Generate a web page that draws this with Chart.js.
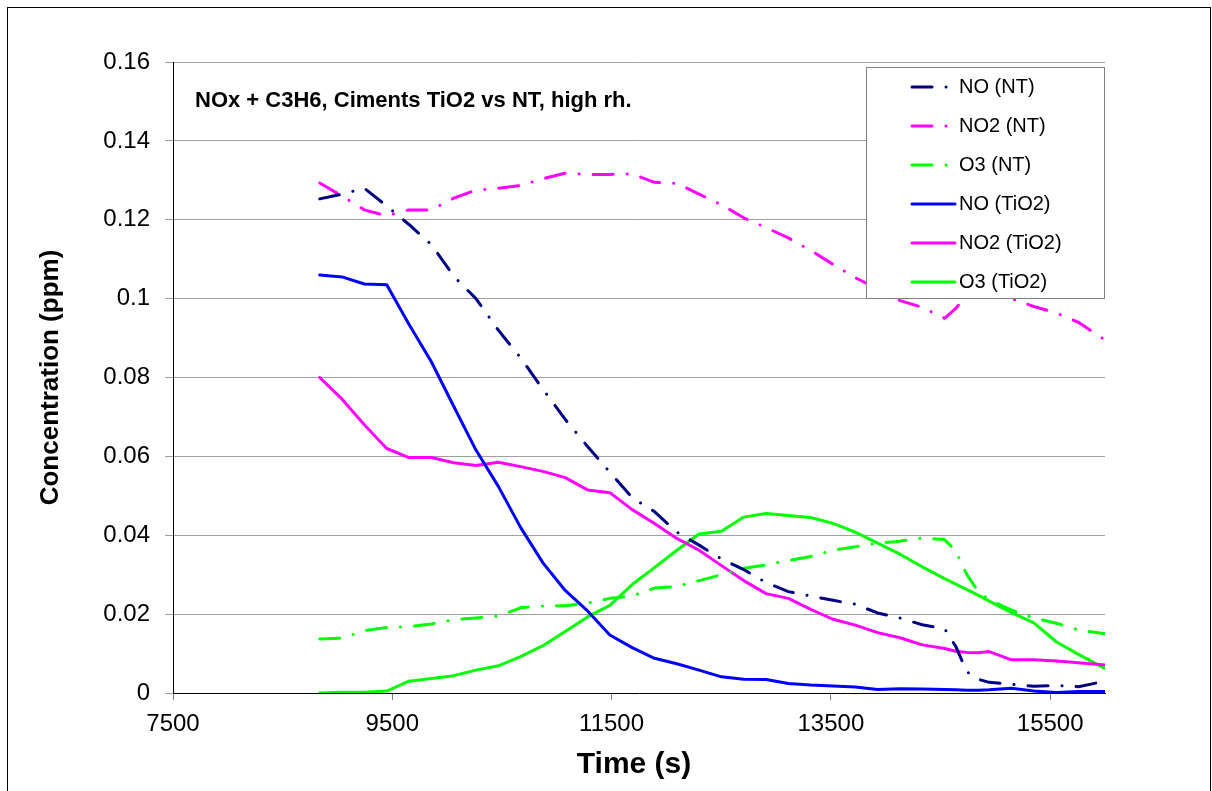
<!DOCTYPE html>
<html>
<head>
<meta charset="utf-8">
<script src="https://cdn.jsdelivr.net/npm/chart.js@4.4.1/dist/chart.umd.min.js"></script>
<style>
  html, body { margin: 0; padding: 0; background: #fff; }
  canvas { display: block; }
</style>
</head>
<body>
<canvas id="chart" width="1212" height="791"></canvas>
<script>
// sample times (s)
const timeS = [8838, 9042, 9245, 9449, 9652, 9856, 10060, 10263, 10467, 10670,
    10874, 11077, 11281, 11484, 11688, 11891, 12095, 12298, 12502, 12705,
    12909, 13112, 13316, 13519, 13723, 13926, 14130, 14333, 14537, 14639,
    14740, 14842, 14944, 15148, 15351, 15555, 15758, 16000];

// axis ticks
const xTicks = [7500, 9500, 11500, 13500, 15500];
const yTicks = [0, 0.02, 0.04, 0.06, 0.08, 0.1, 0.12, 0.14, 0.16];

const seriesLabels = ['NO (NT)', 'NO2 (NT)', 'O3 (NT)', 'NO (TiO2)', 'NO2 (TiO2)', 'O3 (TiO2)'];

// concentrations (ppm), cement without TiO2
const noNT = [0.1253, 0.1265, 0.1280, 0.1235, 0.1188, 0.1137, 0.1057, 0.1000, 0.0920, 0.0850,
    0.0770, 0.0694, 0.0625, 0.0560, 0.0495, 0.0460, 0.0408, 0.0375, 0.0340, 0.0313,
    0.0280, 0.0257, 0.0246, 0.0235, 0.0225, 0.0203, 0.0190, 0.0173, 0.0163, 0.0118,
    0.0054, 0.0035, 0.0027, 0.0022, 0.0017, 0.0019, 0.0016, 0.0030];
const no2NT = [0.1293, 0.1260, 0.1225, 0.1210, 0.1225, 0.1225, 0.1255, 0.1275, 0.1280, 0.1287,
    0.1304, 0.1318, 0.1315, 0.1315, 0.1316, 0.1295, 0.1292, 0.1265, 0.1238, 0.1205,
    0.1180, 0.1154, 0.1122, 0.1087, 0.1053, 0.1025, 0.0995, 0.0978, 0.0950, 0.0975,
    0.1010, 0.1015, 0.1010, 0.1000, 0.0980, 0.0964, 0.0940, 0.0895];
const o3NT = [0.0137, 0.0139, 0.0158, 0.0166, 0.0168, 0.0175, 0.0186, 0.0190, 0.0195, 0.0216,
    0.0221, 0.0221, 0.0228, 0.0240, 0.0246, 0.0266, 0.0270, 0.0285, 0.0300, 0.0316,
    0.0325, 0.0336, 0.0346, 0.0362, 0.0371, 0.0380, 0.0385, 0.0393, 0.0389, 0.0360,
    0.0300, 0.0258, 0.0236, 0.0210, 0.0190, 0.0177, 0.0160, 0.0150];

// concentrations (ppm), TiO2 cement
const noTiO2 = [0.1060, 0.1055, 0.1037, 0.1035, 0.0935, 0.0840, 0.0727, 0.0616, 0.0524, 0.0420,
    0.0330, 0.0260, 0.0208, 0.0147, 0.0115, 0.0088, 0.0074, 0.0058, 0.0041, 0.0035,
    0.0034, 0.0024, 0.0020, 0.0018, 0.0015, 0.0009, 0.0011, 0.0010, 0.0009, 0.0008,
    0.0007, 0.0007, 0.0008, 0.0012, 0.0005, 0.0001, 0.0004, 0.0004];
const no2TiO2 = [0.0800, 0.0745, 0.0680, 0.0620, 0.0597, 0.0597, 0.0584, 0.0577, 0.0585, 0.0574,
    0.0562, 0.0546, 0.0515, 0.0508, 0.0465, 0.0430, 0.0392, 0.0362, 0.0323, 0.0285,
    0.0252, 0.0240, 0.0212, 0.0187, 0.0172, 0.0153, 0.0140, 0.0122, 0.0113, 0.0106,
    0.0103, 0.0102, 0.0105, 0.0084, 0.0084, 0.0081, 0.0077, 0.0071];
const o3TiO2 = [0.0000, 0.0002, 0.0002, 0.0005, 0.0030, 0.0037, 0.0044, 0.0058, 0.0069, 0.0092,
    0.0120, 0.0156, 0.0193, 0.0222, 0.0275, 0.0318, 0.0362, 0.0403, 0.0410, 0.0446,
    0.0455, 0.0450, 0.0445, 0.0430, 0.0408, 0.0380, 0.0352, 0.0320, 0.0290, 0.0276,
    0.0262, 0.0248, 0.0233, 0.0204, 0.0178, 0.0130, 0.0098, 0.0062];

const FONT = 'Arial, "Liberation Sans", sans-serif';
const DASH_DOT = [20, 14, 0.1, 14];

function makeSeries(label, values, color, dashed) {
    return {
        label: label,
        data: timeS.map((t, i) => ({ x: t, y: values[i] })),
        borderColor: color,
        backgroundColor: color,
        borderWidth: 3,
        borderDash: dashed ? DASH_DOT : [],
        borderCapStyle: 'round',
        borderJoinStyle: 'round',
        pointRadius: 0,
        tension: 0,
        fill: false
    };
}

// frame, titles, annotation and legend box
const decorPlugin = {
    id: 'decor',
    beforeDraw(chart) {
        const ctx = chart.ctx;
        ctx.save();
        ctx.fillStyle = '#fff';
        ctx.fillRect(0, 0, chart.width, chart.height);
        ctx.strokeStyle = '#000';
        ctx.lineWidth = 1;
        ctx.strokeRect(7.5, 7.5, chart.width - 9, chart.height + 10);
        ctx.restore();
    },
    afterDatasetsDraw(chart) {
        const ctx = chart.ctx;
        const area = chart.chartArea;
        ctx.save();
        ctx.fillStyle = '#000';

        // annotation
        ctx.font = 'bold 22px ' + FONT;
        ctx.textAlign = 'left';
        ctx.textBaseline = 'middle';
        ctx.fillText('NOx + C3H6, Ciments TiO2 vs NT, high rh.', 195, 101);

        // axis titles
        ctx.font = 'bold 30px ' + FONT;
        ctx.textAlign = 'center';
        ctx.fillText('Time (s)', (area.left + area.right) / 2 - 5, 765);
        ctx.save();
        ctx.translate(51, (area.top + area.bottom) / 2);
        ctx.rotate(-Math.PI / 2);
        ctx.font = 'bold 26px ' + FONT;
        ctx.fillText('Concentration (ppm)', 0, 0);
        ctx.restore();

        // legend
        const box = { x: 866.5, y: 67.5, w: 238, h: 231 };
        ctx.fillStyle = '#fff';
        ctx.fillRect(box.x, box.y, box.w, box.h);
        ctx.strokeStyle = '#808080';
        ctx.lineWidth = 1;
        ctx.strokeRect(box.x, box.y, box.w, box.h);

        ctx.font = '20px ' + FONT;
        ctx.textAlign = 'left';
        chart.data.datasets.forEach((ds, i) => {
            const y = 87 + i * 39;
            ctx.save();
            ctx.strokeStyle = ds.borderColor;
            ctx.lineWidth = 3;
            ctx.lineCap = 'round';
            ctx.setLineDash(ds.borderDash);
            ctx.beginPath();
            ctx.moveTo(912, y);
            ctx.lineTo(955, y);
            ctx.stroke();
            ctx.restore();
            ctx.fillStyle = '#000';
            ctx.fillText(ds.label, 959, y);
        });
        ctx.restore();
    }
};

new Chart(document.getElementById('chart'), {
    type: 'line',
    data: {
        datasets: [
            makeSeries(seriesLabels[0], noNT, '#000080', true),
            makeSeries(seriesLabels[1], no2NT, '#ff00ff', true),
            makeSeries(seriesLabels[2], o3NT, '#00ff00', true),
            makeSeries(seriesLabels[3], noTiO2, '#0000ff', false),
            makeSeries(seriesLabels[4], no2TiO2, '#ff00ff', false),
            makeSeries(seriesLabels[5], o3TiO2, '#00ff00', false)
        ]
    },
    options: {
        responsive: false,
        devicePixelRatio: 1,
        animation: false,
        layout: {
            padding: { left: 0, top: 62, right: 107, bottom: 0 }
        },
        plugins: {
            legend: { display: false },
            tooltip: { enabled: false }
        },
        scales: {
            x: {
                type: 'linear',
                min: 7500,
                max: 16000,
                afterBuildTicks: (axis) => { axis.ticks = xTicks.map(v => ({ value: v })); },
                afterFit: (axis) => { axis.height = 98; },
                grid: {
                    drawOnChartArea: false,
                    color: '#808080',
                    tickLength: 7
                },
                border: { color: '#000', width: 1 },
                ticks: {
                    color: '#000',
                    padding: 10,
                    maxRotation: 0,
                    font: { family: FONT, size: 24 },
                    callback: (value) => String(value)
                }
            },
            y: {
                min: 0,
                max: 0.16,
                afterBuildTicks: (axis) => { axis.ticks = yTicks.map(v => ({ value: v })); },
                afterFit: (axis) => { axis.width = 173; },
                grid: {
                    color: '#a0a0a0',
                    tickLength: 8
                },
                border: { color: '#000', width: 1 },
                ticks: {
                    color: '#000',
                    padding: 15,
                    font: { family: FONT, size: 24 },
                    callback: (value) => String(+value.toFixed(2))
                }
            }
        }
    },
    plugins: [decorPlugin]
});
</script>
</body>
</html>
